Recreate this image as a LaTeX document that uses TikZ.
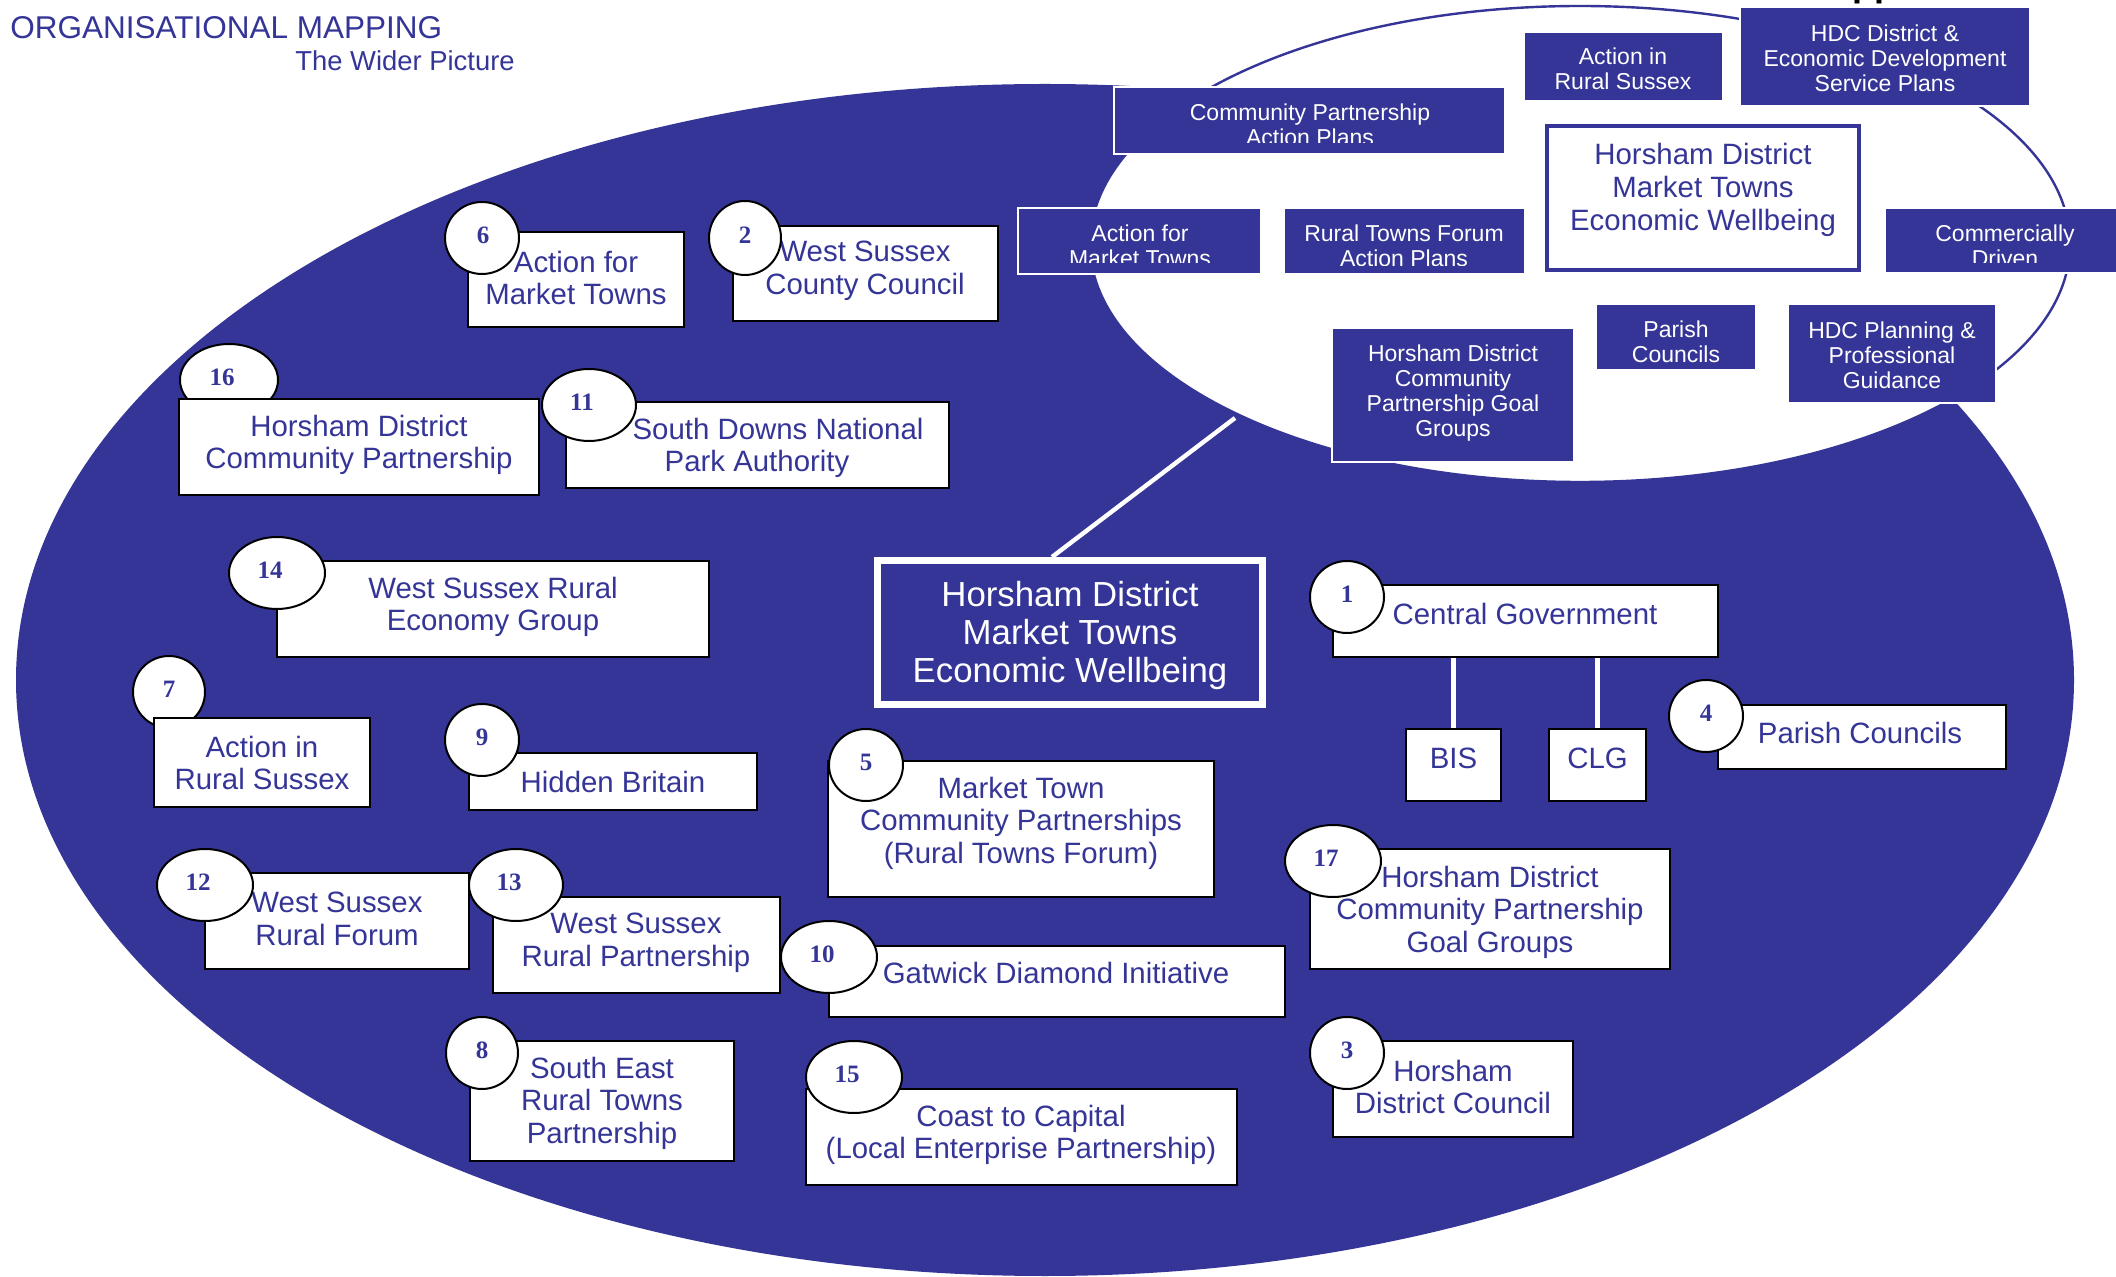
\documentclass[tikz,border=0pt]{standalone}
\usepackage{fontspec}
\setmainfont{Liberation Sans}
\newfontfamily\numfont{Liberation Serif}
\usetikzlibrary{shapes.geometric,fit}
\definecolor{hblue}{RGB}{53,53,151}
\begin{document}
\begin{tikzpicture}[x=0.5pt,y=-0.5pt,
  wbox/.style={draw=black, fill=white, line width=1.2pt, inner sep=0pt},
  wtxt/.style={text=hblue, align=center, font=\fontsize{14.7}{16.3}\selectfont, inner sep=0pt},
  bbox/.style={draw=white, fill=hblue, line width=0.6pt, inner sep=0pt},
  btxt/.style={text=white, align=center, font=\fontsize{11.5}{12.6}\selectfont, inner sep=0pt},
  numc/.style={ellipse, draw=black, fill=white, line width=1pt, inner sep=0pt, minimum height=36pt},
  numt/.style={text=hblue, font=\numfont\bfseries\fontsize{12.5}{13}\selectfont, inner sep=0pt},
  link/.style={draw=white, line width=2.2pt}]
\useasboundingbox (0,0) rectangle (2116,1277);
\fill[white] (0,0) rectangle (2116,1277);
% title
\node[anchor=base west, text=hblue, inner sep=0pt, font=\fontsize{15.75}{16}\selectfont] (title) at (10,39) {ORGANISATIONAL MAPPING};
\node[anchor=base west, text=hblue, inner sep=0pt, font=\fontsize{13.7}{14}\selectfont] (subtitle) at (295,71) {The Wider Picture};
\node[anchor=base west, inner sep=0pt, font=\fontsize{18}{18}\selectfont\bfseries] (cut) at (1852,-3) {pp};
% ellipses
\node[ellipse, fill=hblue, inner sep=0pt, minimum width=1029pt, minimum height=596pt] (bige) at (1045,680) {};
\node[ellipse, fill=white, draw=hblue, line width=1.2pt, inner sep=0pt, minimum width=490pt, minimum height=238pt] (whe) at (1580,244) {};
% central box and link
\node[draw=white, fill=hblue, line width=3.5pt, inner sep=0pt, fit={(877.5,560.5)(1262.5,704.5)}] (cb) {};
\node[text=white, align=center, inner sep=0pt, font=\fontsize{17.4}{19}\selectfont] (cbt) at (1070,636) {Horsham District\\Market Towns\\Economic Wellbeing};
\coordinate (wtip) at (1235,418);
\draw[link] (wtip) -- ([xshift=-9pt]cb.north);
% boxes inside white ellipse
\node[bbox, fit={(1114,87)(1505,154)}] (a1) {};
\begin{scope}
\clip (1114,87) rectangle (1505,143);
\node[btxt] (a1t) at (1310,125) {Community Partnership\\Action Plans};
\end{scope}
\node[bbox, fit={(1524,32)(1723,101)}] (a2) {};
\node[btxt] (a2t) at (1623,69) {Action in\\Rural Sussex};
\node[bbox, fit={(1740,7)(2030,106)}] (a3) {};
\node[btxt] (a3t) at (1885,58) {HDC District \&\\Economic Development\\Service Plans};
\node[draw=hblue, fill=white, line width=2pt, inner sep=0pt, fit={(1547,126)(1859,270)}] (a4) {};
\node[wtxt] (a4t) at (1703,190) {Horsham District\\Market Towns\\Economic Wellbeing};
\node[bbox, fit={(1885,208)(2130,273)}] (a5) {};
\begin{scope}
\clip (1885,208) rectangle (2130,263);
\node[btxt] (a5t) at (2005,246) {Commercially\\Driven};
\end{scope}
\node[bbox, fit={(1018,208)(1261,274)}] (a6) {};
\begin{scope}
\clip (1018,208) rectangle (1261,263);
\node[btxt] (a6t) at (1140,246) {Action for\\Market Towns};
\end{scope}
\node[bbox, fit={(1284,208)(1525,274)}] (a7) {};
\begin{scope}
\clip (1284,208) rectangle (1525,266);
\node[btxt] (a7t) at (1404,246) {Rural Towns Forum\\Action Plans};
\end{scope}
\node[bbox, fit={(1332,328)(1574,462)}] (a8) {};
\node[btxt] (a8t) at (1453,393) {Horsham District\\Community\\Partnership Goal\\Groups};
\node[bbox, fit={(1596,304)(1756,370)}] (a9) {};
\node[btxt] (a9t) at (1676,342) {Parish\\Councils};
\node[bbox, fit={(1788,304)(1996,403)}] (a10) {};
\node[btxt] (a10t) at (1892,355) {HDC Planning \&\\Professional\\Guidance};
% numbered boxes
\node[numc, minimum width=49pt] (c16) at (229,380) {};
\node[wbox, fit={(179,399)(539,495)}] (b16) {};
\node[wtxt] (t16) at (359,445) {Horsham District\\Community Partnership};
\node[numt] (n16) at (222,377) {16};

\node[numc, minimum width=36pt] (c7) at (169,692) {};
\node[wbox, fit={(154,718)(370,807)}] (b7) {};
\node[wtxt] (t7) at (262,763) {Action in\\Rural Sussex};
\node[numt] (n7) at (169,689) {7};

\node[wbox, fit={(468,232)(684,327)}] (b6) {};
\node[wtxt] (t6) at (576,278) {Action for\\Market Towns};
\node[numc, minimum width=37pt] (c6) at (482,238) {};
\node[numt] (n6) at (483,235) {6};

\node[wbox, fit={(733,226)(998,321)}] (b2) {};
\node[wtxt] (t2) at (865,271) {West Sussex\\County Council};
\node[numc, minimum width=36pt, minimum height=37pt] (c2) at (745,238) {};
\node[numt] (n2) at (745,235) {2};

\node[wbox, fit={(566,402)(949,488)}] (b11) {};
\node[wtxt] (t11) at (757,448) {\hspace*{21pt}South Downs National\\Park Authority};
\node[numc, minimum width=47pt] (c11) at (589,405) {};
\node[numt] (n11) at (582,402) {11};

\node[wbox, fit={(277,561)(709,657)}] (b14) {};
\node[wtxt] (t14) at (493,607) {West Sussex Rural\\Economy Group};
\node[numc, minimum width=48pt] (c14) at (277,573) {};
\node[numt] (n14) at (270,570) {14};

\node[wbox, fit={(469,753)(757,810)}] (b9) {};
\node[wtxt] (t9) at (613,782) {Hidden Britain};
\node[numc, minimum width=37pt] (c9) at (482,740) {};
\node[numt] (n9) at (482,737) {9};

\node[wbox, fit={(205,873)(469,969)}] (b12) {};
\node[wtxt] (t12) at (337,919) {West Sussex\\Rural Forum};
\node[numc, minimum width=48pt] (c12) at (205,885) {};
\node[numt] (n12) at (198,882) {12};

\node[wbox, fit={(493,897)(780,993)}] (b13) {};
\node[wtxt] (t13) at (636,943) {West Sussex\\Rural Partnership};
\node[numc, minimum width=47pt] (c13) at (516,885) {};
\node[numt] (n13) at (509,882) {13};

\node[wbox, fit={(829,946)(1285,1017)}] (b10) {};
\node[wtxt] (t10) at (1056,973) {Gatwick Diamond Initiative};
\node[numc, minimum width=48pt] (c10) at (829,957) {};
\node[numt] (n10) at (822,954) {10};

\node[wbox, fit={(828,761)(1214,897)}] (b5) {};
\node[wtxt] (t5) at (1021,823) {Market Town\\Community Partnerships\\(Rural Towns Forum)};
\node[numc, minimum width=37pt] (c5) at (866,765) {};
\node[numt] (n5) at (866,762) {5};

\node[wbox, fit={(470,1041)(734,1161)}] (b8) {};
\node[wtxt] (t8) at (602,1103) {South East\\Rural Towns\\Partnership};
\node[numc, minimum width=36pt] (c8) at (482,1053) {};
\node[numt] (n8) at (482,1050) {8};

\node[wbox, fit={(806,1089)(1237,1185)}] (b15) {};
\node[wtxt] (t15) at (1021,1135) {Coast to Capital\\(Local Enterprise Partnership)};
\node[numc, minimum width=48pt] (c15) at (854,1077) {};
\node[numt] (n15) at (847,1074) {15};

\node[wbox, fit={(1333,585)(1718,657)}] (b1) {};
\node[wtxt] (t1) at (1525,614) {Central Government};
\node[numc, minimum width=37pt] (c1) at (1347,597) {};
\node[numt] (n1) at (1347,594) {1};

\node[wbox, fit={(1406,729)(1501,801)}] (bis) {};
\node[wtxt] (bist) at (1453.5,758) {BIS};
\node[wbox, fit={(1549,729)(1646,801)}] (clg) {};
\node[wtxt] (clgt) at (1597.5,758) {CLG};
\draw[link] (b1.south -| bis.north) -- (bis.north);
\draw[link] (b1.south -| clg.north) -- (clg.north);

\node[wbox, fit={(1718,705)(2006,769)}] (b4) {};
\node[wtxt] (t4) at (1860,733) {Parish Councils};
\node[numc, minimum width=37pt] (c4) at (1706,716) {};
\node[numt] (n4) at (1706,713) {4};

\node[wbox, fit={(1310,849)(1670,969)}] (b17) {};
\node[wtxt] (t17) at (1490,912) {Horsham District\\Community Partnership\\Goal Groups};
\node[numc, minimum width=48pt] (c17) at (1333,861) {};
\node[numt] (n17) at (1326,858) {17};

\node[wbox, fit={(1333,1041)(1573,1137)}] (b3) {};
\node[wtxt] (t3) at (1453,1087) {Horsham\\District Council};
\node[numc, minimum width=37pt] (c3) at (1347,1053) {};
\node[numt] (n3) at (1347,1050) {3};
\end{tikzpicture}
\end{document}
